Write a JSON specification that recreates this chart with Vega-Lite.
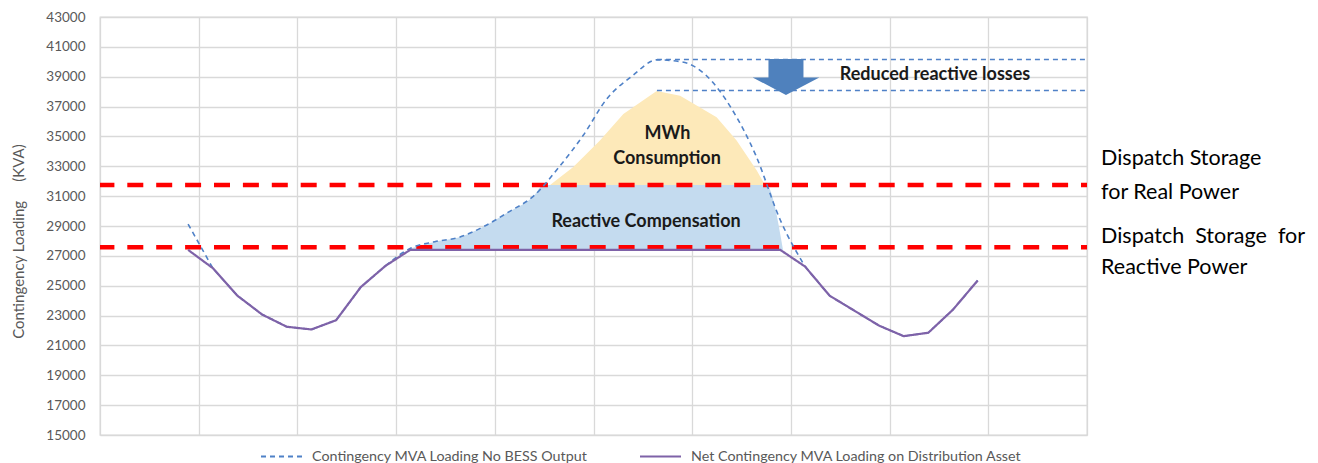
{
  "$schema": "https://vega.github.io/schema/vega-lite/v6.json",
  "width": 987,
  "height": 418,
  "autosize": {"type": "none"},
  "padding": {"left": 100, "top": 17, "right": 231, "bottom": 28},
  "background": "white",
  "config": {
    "font": "Lato",
    "view": {"stroke": "#d9d9d9", "strokeWidth": 1.3},
    "axis": {"gridColor": "#d9d9d9", "gridWidth": 1.3, "domain": false, "ticks": false},
    "legend": {"orient": "none", "legendX": 160, "legendY": 418, "direction": "horizontal", "padding": 0,
               "symbolType": "stroke", "symbolSize": 1681, "symbolStrokeWidth": 2, "labelLimit": 500,
               "labelFontSize": 14.3, "labelColor": "#595959", "labelOffset": 9, "columnPadding": 48}
  },
  "datasets": {
    "dashed": [
      {"x": 3.57, "v": 29130, "series": "Contingency MVA Loading No BESS Output"},
      {"x": 4.57, "v": 26180, "series": "Contingency MVA Loading No BESS Output"},
      {"x": 5.57, "v": 24330, "series": "Contingency MVA Loading No BESS Output"},
      {"x": 6.57, "v": 23070, "series": "Contingency MVA Loading No BESS Output"},
      {"x": 7.57, "v": 22250, "series": "Contingency MVA Loading No BESS Output"},
      {"x": 8.57, "v": 22070, "series": "Contingency MVA Loading No BESS Output"},
      {"x": 9.57, "v": 22690, "series": "Contingency MVA Loading No BESS Output"},
      {"x": 10.57, "v": 24910, "series": "Contingency MVA Loading No BESS Output"},
      {"x": 11.57, "v": 26330, "series": "Contingency MVA Loading No BESS Output"},
      {"x": 12.57, "v": 27500, "series": "Contingency MVA Loading No BESS Output"},
      {"x": 13.57, "v": 27950, "series": "Contingency MVA Loading No BESS Output"},
      {"x": 14.57, "v": 28250, "series": "Contingency MVA Loading No BESS Output"},
      {"x": 15.57, "v": 28980, "series": "Contingency MVA Loading No BESS Output"},
      {"x": 16.57, "v": 29950, "series": "Contingency MVA Loading No BESS Output"},
      {"x": 17.57, "v": 31000, "series": "Contingency MVA Loading No BESS Output"},
      {"x": 18.57, "v": 32880, "series": "Contingency MVA Loading No BESS Output"},
      {"x": 19.57, "v": 35040, "series": "Contingency MVA Loading No BESS Output"},
      {"x": 20.57, "v": 37580, "series": "Contingency MVA Loading No BESS Output"},
      {"x": 21.57, "v": 39050, "series": "Contingency MVA Loading No BESS Output"},
      {"x": 22.57, "v": 40130, "series": "Contingency MVA Loading No BESS Output"},
      {"x": 23.57, "v": 40000, "series": "Contingency MVA Loading No BESS Output"},
      {"x": 24.57, "v": 39080, "series": "Contingency MVA Loading No BESS Output"},
      {"x": 25.57, "v": 36930, "series": "Contingency MVA Loading No BESS Output"},
      {"x": 26.57, "v": 33760, "series": "Contingency MVA Loading No BESS Output"},
      {"x": 27.57, "v": 29400, "series": "Contingency MVA Loading No BESS Output"},
      {"x": 28.57, "v": 26300, "series": "Contingency MVA Loading No BESS Output"},
      {"x": 29.57, "v": 24330, "series": "Contingency MVA Loading No BESS Output"},
      {"x": 30.57, "v": 23330, "series": "Contingency MVA Loading No BESS Output"},
      {"x": 31.57, "v": 22330, "series": "Contingency MVA Loading No BESS Output"},
      {"x": 32.57, "v": 21620, "series": "Contingency MVA Loading No BESS Output"},
      {"x": 33.57, "v": 21850, "series": "Contingency MVA Loading No BESS Output"},
      {"x": 34.57, "v": 23400, "series": "Contingency MVA Loading No BESS Output"},
      {"x": 35.57, "v": 25350, "series": "Contingency MVA Loading No BESS Output"}
    ],
    "net": [
      {"x": 3.57, "v": 27400, "series": "Net Contingency MVA Loading on Distribution Asset"},
      {"x": 4.57, "v": 26180, "series": "Net Contingency MVA Loading on Distribution Asset"},
      {"x": 5.57, "v": 24330, "series": "Net Contingency MVA Loading on Distribution Asset"},
      {"x": 6.57, "v": 23070, "series": "Net Contingency MVA Loading on Distribution Asset"},
      {"x": 7.57, "v": 22250, "series": "Net Contingency MVA Loading on Distribution Asset"},
      {"x": 8.57, "v": 22070, "series": "Net Contingency MVA Loading on Distribution Asset"},
      {"x": 9.57, "v": 22690, "series": "Net Contingency MVA Loading on Distribution Asset"},
      {"x": 10.57, "v": 24910, "series": "Net Contingency MVA Loading on Distribution Asset"},
      {"x": 11.57, "v": 26330, "series": "Net Contingency MVA Loading on Distribution Asset"},
      {"x": 12.57, "v": 27400, "series": "Net Contingency MVA Loading on Distribution Asset"},
      {"x": 13.57, "v": 27400, "series": "Net Contingency MVA Loading on Distribution Asset"},
      {"x": 14.57, "v": 27400, "series": "Net Contingency MVA Loading on Distribution Asset"},
      {"x": 15.57, "v": 27400, "series": "Net Contingency MVA Loading on Distribution Asset"},
      {"x": 16.57, "v": 27400, "series": "Net Contingency MVA Loading on Distribution Asset"},
      {"x": 17.57, "v": 27400, "series": "Net Contingency MVA Loading on Distribution Asset"},
      {"x": 18.57, "v": 27400, "series": "Net Contingency MVA Loading on Distribution Asset"},
      {"x": 19.57, "v": 27400, "series": "Net Contingency MVA Loading on Distribution Asset"},
      {"x": 20.57, "v": 27400, "series": "Net Contingency MVA Loading on Distribution Asset"},
      {"x": 21.57, "v": 27400, "series": "Net Contingency MVA Loading on Distribution Asset"},
      {"x": 22.57, "v": 27400, "series": "Net Contingency MVA Loading on Distribution Asset"},
      {"x": 23.57, "v": 27400, "series": "Net Contingency MVA Loading on Distribution Asset"},
      {"x": 24.57, "v": 27400, "series": "Net Contingency MVA Loading on Distribution Asset"},
      {"x": 25.57, "v": 27400, "series": "Net Contingency MVA Loading on Distribution Asset"},
      {"x": 26.57, "v": 27400, "series": "Net Contingency MVA Loading on Distribution Asset"},
      {"x": 27.57, "v": 27400, "series": "Net Contingency MVA Loading on Distribution Asset"},
      {"x": 28.57, "v": 26290, "series": "Net Contingency MVA Loading on Distribution Asset"},
      {"x": 29.57, "v": 24330, "series": "Net Contingency MVA Loading on Distribution Asset"},
      {"x": 30.57, "v": 23330, "series": "Net Contingency MVA Loading on Distribution Asset"},
      {"x": 31.57, "v": 22330, "series": "Net Contingency MVA Loading on Distribution Asset"},
      {"x": 32.57, "v": 21620, "series": "Net Contingency MVA Loading on Distribution Asset"},
      {"x": 33.57, "v": 21850, "series": "Net Contingency MVA Loading on Distribution Asset"},
      {"x": 34.57, "v": 23400, "series": "Net Contingency MVA Loading on Distribution Asset"},
      {"x": 35.57, "v": 25350, "series": "Net Contingency MVA Loading on Distribution Asset"}
    ],
    "blue": [
      {"x": 12.57, "lo": 27400, "v": 27500},
      {"x": 13.57, "lo": 27400, "v": 27950},
      {"x": 14.57, "lo": 27400, "v": 28250},
      {"x": 15.57, "lo": 27400, "v": 28980},
      {"x": 16.57, "lo": 27400, "v": 29950},
      {"x": 17.57, "lo": 27400, "v": 31000},
      {"x": 17.97, "lo": 27400, "v": 31750},
      {"x": 27.0, "lo": 27400, "v": 31750},
      {"x": 27.68, "lo": 27400, "v": 27400}
    ],
    "yellow": [
      {"x": 18.24, "lo": 31750, "v": 31750},
      {"x": 19.18, "lo": 31750, "v": 32950},
      {"x": 20.26, "lo": 31750, "v": 34730},
      {"x": 21.21, "lo": 31750, "v": 36510},
      {"x": 22.56, "lo": 31750, "v": 38050},
      {"x": 23.51, "lo": 31750, "v": 37730},
      {"x": 24.99, "lo": 31750, "v": 36290},
      {"x": 25.8, "lo": 31750, "v": 34730},
      {"x": 26.61, "lo": 31750, "v": 32730},
      {"x": 26.95, "lo": 31750, "v": 31750}
    ],
    "red": [{"v": 31750}, {"v": 27570}],
    "peaks": [
      {"x": 22.57, "x2": 40, "v": 40150},
      {"x": 22.57, "x2": 40, "v": 38080}
    ],
    "arrow": [{"x": 27.8, "v": 38980}],
    "labels": [
      {"x": 23.0, "v": 35160, "text": "MWh"},
      {"x": 22.98, "v": 33520, "text": "Consumption"},
      {"x": 22.13, "v": 29300, "text": "Reactive Compensation"},
      {"x": 33.84, "v": 39110, "text": "Reduced reactive losses"}
    ],
    "side": [
      {"x": 40.57, "v": 33455, "text": "Dispatch Storage"},
      {"x": 40.57, "v": 31244, "text": "for Real Power"},
      {"x": 40.57, "v": 28230, "text": "Dispatch\u00a0\u00a0Storage\u00a0\u00a0for"},
      {"x": 40.57, "v": 26167, "text": "Reactive Power"}
    ]
  },
  "layer": [
    {
      "data": {"name": "blue"},
      "mark": {"type": "area", "color": "#c4dbef", "interpolate": "monotone"},
      "encoding": {
        "x": {"field": "x", "type": "quantitative", "scale": {"domain": [0, 40], "nice": false, "zero": false},
              "axis": {"values": [0, 4, 8, 12, 16, 20, 24, 28, 32, 36, 40], "tickCount": 20, "labels": false, "title": null, "grid": true}},
        "y": {"field": "v", "type": "quantitative", "scale": {"domain": [15000, 43000], "nice": false, "zero": false},
              "axis": {"values": [15000, 17000, 19000, 21000, 23000, 25000, 27000, 29000, 31000, 33000, 35000, 37000, 39000, 41000, 43000],
                       "tickCount": 30, "format": "d", "labelColor": "#595959", "labelFontSize": 13.5, "labelPadding": 15, "labelOverlap": false,
                       "title": "Contingency Loading\u00a0\u00a0\u00a0\u00a0\u00a0(KVA)", "titleColor": "#595959", "titleFontSize": 15,
                       "titleFontWeight": "normal", "titleX": -74, "titleY": 224}},
        "y2": {"field": "lo"}
      }
    },
    {
      "data": {"name": "yellow"},
      "mark": {"type": "area", "color": "#fde9b9", "interpolate": "linear"},
      "encoding": {
        "x": {"field": "x", "type": "quantitative", "scale": {"domain": [0, 40]}},
        "y": {"field": "v", "type": "quantitative", "scale": {"domain": [15000, 43000]}},
        "y2": {"field": "lo"}
      }
    },
    {
      "data": {"name": "red"},
      "mark": {"type": "rule", "color": "#ff0000", "strokeWidth": 4.5, "strokeDash": [16, 12.9], "strokeDashOffset": 10},
      "encoding": {
        "y": {"field": "v", "type": "quantitative", "scale": {"domain": [15000, 43000]}}
      }
    },
    {
      "data": {"name": "dashed"},
      "transform": [{"filter": "datum.x <= 11.6"}],
      "mark": {"type": "line", "interpolate": "linear", "strokeWidth": 1.6},
      "encoding": {
        "x": {"field": "x", "type": "quantitative", "scale": {"domain": [0, 40]}},
        "y": {"field": "v", "type": "quantitative", "scale": {"domain": [15000, 43000]}},
        "color": {"field": "series", "type": "nominal",
                  "scale": {"domain": ["Contingency MVA Loading No BESS Output", "Net Contingency MVA Loading on Distribution Asset"], "range": ["#4f81c7", "#7e62a8"]},
                  "legend": {"title": null}},
        "strokeDash": {"field": "series", "type": "nominal",
                  "scale": {"domain": ["Contingency MVA Loading No BESS Output", "Net Contingency MVA Loading on Distribution Asset"], "range": [[5, 4], [1, 0]]},
                  "legend": {"title": null}}
      }
    },
    {
      "data": {"name": "dashed"},
      "transform": [{"filter": "datum.x >= 28.5"}],
      "mark": {"type": "line", "interpolate": "linear", "strokeWidth": 1.6},
      "encoding": {
        "x": {"field": "x", "type": "quantitative", "scale": {"domain": [0, 40]}},
        "y": {"field": "v", "type": "quantitative", "scale": {"domain": [15000, 43000]}},
        "color": {"field": "series", "type": "nominal"},
        "strokeDash": {"field": "series", "type": "nominal"}
      }
    },
    {
      "data": {"name": "dashed"},
      "transform": [{"filter": "datum.x >= 11.5 && datum.x <= 28.6"}],
      "mark": {"type": "line", "interpolate": "monotone", "strokeWidth": 1.6},
      "encoding": {
        "x": {"field": "x", "type": "quantitative", "scale": {"domain": [0, 40]}},
        "y": {"field": "v", "type": "quantitative", "scale": {"domain": [15000, 43000]}},
        "color": {"field": "series", "type": "nominal"},
        "strokeDash": {"field": "series", "type": "nominal"}
      }
    },
    {
      "data": {"name": "net"},
      "mark": {"type": "line", "interpolate": "linear", "strokeWidth": 2.2},
      "encoding": {
        "x": {"field": "x", "type": "quantitative", "scale": {"domain": [0, 40]}},
        "y": {"field": "v", "type": "quantitative", "scale": {"domain": [15000, 43000]}},
        "color": {"field": "series", "type": "nominal"},
        "strokeDash": {"field": "series", "type": "nominal"}
      }
    },
    {
      "data": {"name": "peaks"},
      "mark": {"type": "rule", "color": "#4f81c7", "strokeWidth": 1.4, "strokeDash": [5, 4]},
      "encoding": {
        "x": {"field": "x", "type": "quantitative", "scale": {"domain": [0, 40]}},
        "x2": {"field": "x2"},
        "y": {"field": "v", "type": "quantitative", "scale": {"domain": [15000, 43000]}}
      }
    },
    {
      "data": {"name": "arrow"},
      "mark": {"type": "point", "filled": true, "color": "#4f81bd", "opacity": 1, "size": 4444, "strokeWidth": 0,
               "shape": "M-0.525,-0.54L0.525,-0.54L0.525,0.012L1,0.012L0,0.54L-1,0.012L-0.525,0.012Z"},
      "encoding": {
        "x": {"field": "x", "type": "quantitative", "scale": {"domain": [0, 40]}},
        "y": {"field": "v", "type": "quantitative", "scale": {"domain": [15000, 43000]}}
      }
    },
    {
      "data": {"name": "labels"},
      "mark": {"type": "text", "fontWeight": "bold", "fontSize": 18, "color": "#1a1a1a", "align": "center", "baseline": "middle"},
      "encoding": {
        "x": {"field": "x", "type": "quantitative", "scale": {"domain": [0, 40]}},
        "y": {"field": "v", "type": "quantitative", "scale": {"domain": [15000, 43000]}},
        "text": {"field": "text"}
      }
    },
    {
      "data": {"name": "side"},
      "mark": {"type": "text", "fontSize": 21.5, "color": "#000000", "align": "left", "baseline": "middle"},
      "encoding": {
        "x": {"field": "x", "type": "quantitative", "scale": {"domain": [0, 40]}},
        "y": {"field": "v", "type": "quantitative", "scale": {"domain": [15000, 43000]}},
        "text": {"field": "text"}
      }
    }
  ]
}
